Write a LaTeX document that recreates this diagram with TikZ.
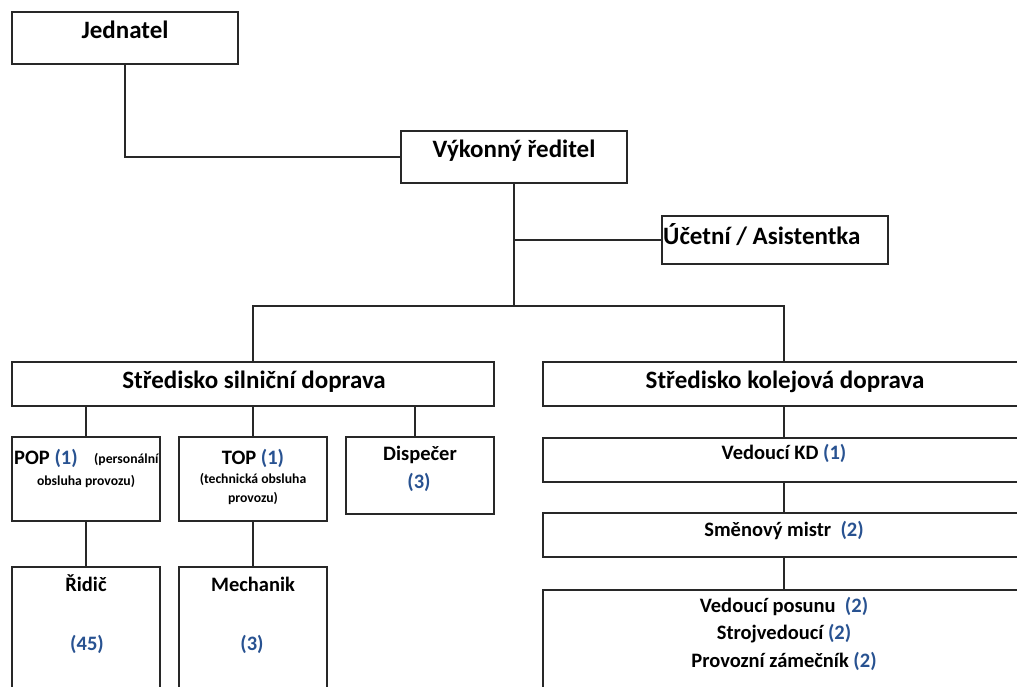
\documentclass[tikz,border=0pt]{standalone}
\usepackage{fontspec}
\setmainfont{Carlito}
\definecolor{numblue}{RGB}{40,82,145}
\definecolor{linec}{RGB}{40,40,40}
\newcommand{\bx}[5]{\node[box, minimum width={#4-#2}, minimum height={#5-#3}] (#1) at ({(#2+#4)/2},{(#3+#5)/2}) {};}
\newcommand{\nb}[1]{\textcolor{numblue}{#1}}
\begin{document}
\begin{tikzpicture}[x=1pt,y=-1pt,
  box/.style={draw=linec, line width=1.8pt, rectangle, inner sep=0pt, outer sep=0pt, fill=white},
  conn/.style={draw=linec, line width=1.8pt},
  big/.style={inner sep=0pt, font=\fontsize{25}{30}\selectfont\bfseries},
  mid/.style={inner sep=0pt, font=\fontsize{20.5}{24}\selectfont\bfseries},
  sml/.style={inner sep=0pt, font=\fontsize{13.7}{16}\selectfont\bfseries}]
\clip (0,0) rectangle (1017,686);
\fill[white] (0,0) rectangle (1017,686);
% boxes
\bx{jed}{12}{12}{238}{64}
\bx{vyk}{401}{131}{627}{183}
\bx{uc}{662}{216}{888}{264}
\bx{ssd}{12}{362}{494}{406}
\bx{skd}{543}{362}{1025}{406}
\bx{pop}{12}{437}{160}{521}
\bx{top}{179}{437}{327}{521}
\bx{disp}{346}{437}{494}{514}
\bx{rid}{12}{567}{160}{705}
\bx{mech}{179}{567}{327}{705}
\bx{vkd}{543}{438}{1025}{482}
\bx{smm}{543}{513}{1025}{557}
\bx{bot}{543}{590}{1025}{705}
% connectors
\coordinate (bus) at (514,306);
\draw[conn] (jed.south) |- (vyk.west);
\draw[conn] (vyk.south) -- (bus);
\draw[conn] (vyk.south |- uc.west) -- (uc.west);
\draw[conn] (ssd.north) |- (bus) -| (skd.north);
\draw[conn] (pop.north) -- (pop.north |- ssd.south);
\draw[conn] (top.north) -- (top.north |- ssd.south);
\draw[conn] ([xshift=-5pt]disp.north) -- ([xshift=-5pt]disp.north |- ssd.south);
\draw[conn] (pop.south) -- (rid.north);
\draw[conn] (top.south) -- (mech.north);
\draw[conn] (skd.south) -- (vkd.north);
\draw[conn] (vkd.south) -- (smm.north);
\draw[conn] (smm.south) -- (bot.north);
% texts
\node[big, anchor=base] (jedt) at (125,38) {Jednatel};
\node[big, anchor=base] (vykt) at (514,157) {Výkonný ředitel};
\node[big, anchor=base west] (uct) at (663,244) {Účetní / Asistentka};
\node[big, anchor=base] (ssdt) at (254,388) {Středisko silniční doprava};
\node[big, anchor=base] (skdt) at (785,388) {Středisko kolejová doprava};
\node[mid, anchor=base west] (popt) at (14,464) {POP \nb{(1)}};
\node[sml, anchor=base west] (popt2) at (94,463) {(personální};
\node[sml, anchor=base] (popt3) at (86,485) {obsluha provozu)};
\node[mid, anchor=base] (topt) at (253,464) {TOP \nb{(1)}};
\node[sml, anchor=base] (topt2) at (253,483) {(technická obsluha};
\node[sml, anchor=base] (topt3) at (253,502) {provozu)};
\node[mid, anchor=base] (dispt) at (420,460) {Dispečer};
\node[mid, anchor=base] (dispn) at (419,488) {\nb{(3)}};
\node[mid, anchor=base] (ridt) at (86,591) {Řidič};
\node[mid, anchor=base] (ridn) at (87,650) {\nb{(45)}};
\node[mid, anchor=base] (mecht) at (253,591) {Mechanik};
\node[mid, anchor=base] (mechn) at (252,650) {\nb{(3)}};
\node[mid, anchor=base] (vkdt) at (784,459) {Vedoucí KD \nb{(1)}};
\node[mid, anchor=base] (smmt) at (784,536) {Směnový mistr\ \ \nb{(2)}};
\node[mid, anchor=base] (bot1) at (784,612) {Vedoucí posunu\ \ \nb{(2)}};
\node[mid, anchor=base] (bot2) at (784,639) {Strojvedoucí \nb{(2)}};
\node[mid, anchor=base] (bot3) at (784,667) {Provozní zámečník \nb{(2)}};
\end{tikzpicture}
\end{document}
